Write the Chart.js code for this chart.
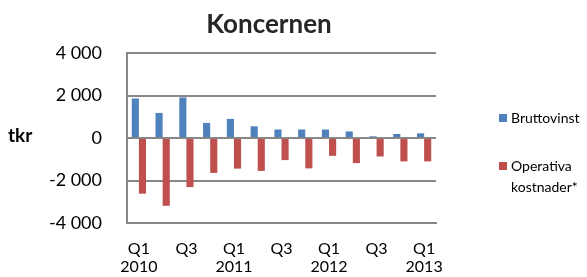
<!DOCTYPE html>
<html>
<head>
<meta charset="utf-8">
<script src="https://cdn.jsdelivr.net/npm/chart.js@4/dist/chart.umd.min.js"></script>
<style>
  html, body { margin: 0; padding: 0; background: #fff; }
  #wrap { width: 587px; height: 277px; }
</style>
</head>
<body>
<div id="wrap"><canvas id="c" width="587" height="277"></canvas></div>
<script>
const titleText = "Koncernen";
const yAxisTitle = "tkr";
const categories = [
  ["Q1", "2010"], ["Q2", "2010"], ["Q3", "2010"], ["Q4", "2010"],
  ["Q1", "2011"], ["Q2", "2011"], ["Q3", "2011"], ["Q4", "2011"],
  ["Q1", "2012"], ["Q2", "2012"], ["Q3", "2012"], ["Q4", "2012"],
  ["Q1", "2013"]
];
const bruttovinst = [1860, 1180, 1910, 710, 900, 550, 400, 400, 400, 310, 80, 190, 220];
const operativaKostnader = [-2620, -3190, -2310, -1640, -1440, -1550, -1040, -1430, -840, -1180, -870, -1100, -1100];
const seriesNames = ["Bruttovinst", "Operativa kostnader*"];
const legendLines = [["Bruttovinst"], ["Operativa", "kostnader*"]];
const yTicks = [-4000, -2000, 0, 2000, 4000];

const FONT = "Lato, 'Open Sans', sans-serif";
const GRID = "#878787";
const TEXT = "#000000";

function fmt(v) {
  const s = Math.abs(v).toString().replace(/\B(?=(\d{3})+(?!\d))/g, " ");
  return (v < 0 ? "-" : "") + s;
}

const extrasPlugin = {
  id: "extras",
  afterDraw(chart) {
    const ctx = chart.ctx;
    ctx.save();
    // title
    ctx.fillStyle = "#262626";
    ctx.font = "bold 26px " + FONT;
    ctx.textAlign = "center";
    ctx.textBaseline = "middle";
    ctx.fillText(titleText, 269, 25);
    // y axis title
    ctx.fillStyle = TEXT;
    ctx.font = "bold 19px " + FONT;
    ctx.textAlign = "left";
    ctx.fillText(yAxisTitle, 8, 136);
    // legend
    const items = [
      { color: chart.data.datasets[0].backgroundColor, lines: legendLines[0], y: 118 },
      { color: chart.data.datasets[1].backgroundColor, lines: legendLines[1], y: 166 }
    ];
    ctx.font = "14px " + FONT;
    items.forEach(it => {
      ctx.fillStyle = it.color;
      ctx.fillRect(499, it.y - 4, 8, 8);
      ctx.fillStyle = TEXT;
      it.lines.forEach((ln, i) => ctx.fillText(ln, 511, it.y + i * 21));
    });
    ctx.restore();
  }
};

new Chart(document.getElementById("c"), {
  type: "bar",
  data: {
    labels: categories,
    datasets: [
      { label: seriesNames[0], data: bruttovinst, backgroundColor: "#4F81BD",
        categoryPercentage: 0.6, barPercentage: 1.0 },
      { label: seriesNames[1], data: operativaKostnader, backgroundColor: "#C0504D",
        categoryPercentage: 0.6, barPercentage: 1.0 }
    ]
  },
  options: {
    responsive: false,
    animation: false,
    layout: { padding: { top: 53, right: 151, bottom: 0, left: 0 } },
    plugins: {
      legend: { display: false },
      title: { display: false },
      tooltip: { enabled: false }
    },
    scales: {
      x: {
        afterFit(scale) { scale.height = 54; },
        grid: { display: false, drawTicks: false },
        border: { display: true, color: GRID, width: 2 },
        ticks: {
          autoSkip: false,
          maxRotation: 0,
          padding: 17,
          color: TEXT,
          font: { family: FONT, size: 16, lineHeight: 1.1 },
          callback: function (val, idx) {
            const c = categories[idx];
            if (idx % 4 === 0) return c;
            if (idx % 2 === 0) return [c[0], ""];
            return "";
          }
        }
      },
      y: {
        min: -4000, max: 4000,
        afterFit(scale) { scale.width = 127; },
        afterBuildTicks(scale) { scale.ticks = yTicks.map(v => ({ value: v })); },
        grid: { color: GRID, lineWidth: 2, drawTicks: false },
        border: { display: true, color: GRID, width: 2 },
        ticks: {
          padding: 25,
          color: TEXT,
          font: { family: FONT, size: 18 },
          callback: v => fmt(v)
        }
      }
    }
  },
  plugins: [extrasPlugin]
});
</script>
</body>
</html>
